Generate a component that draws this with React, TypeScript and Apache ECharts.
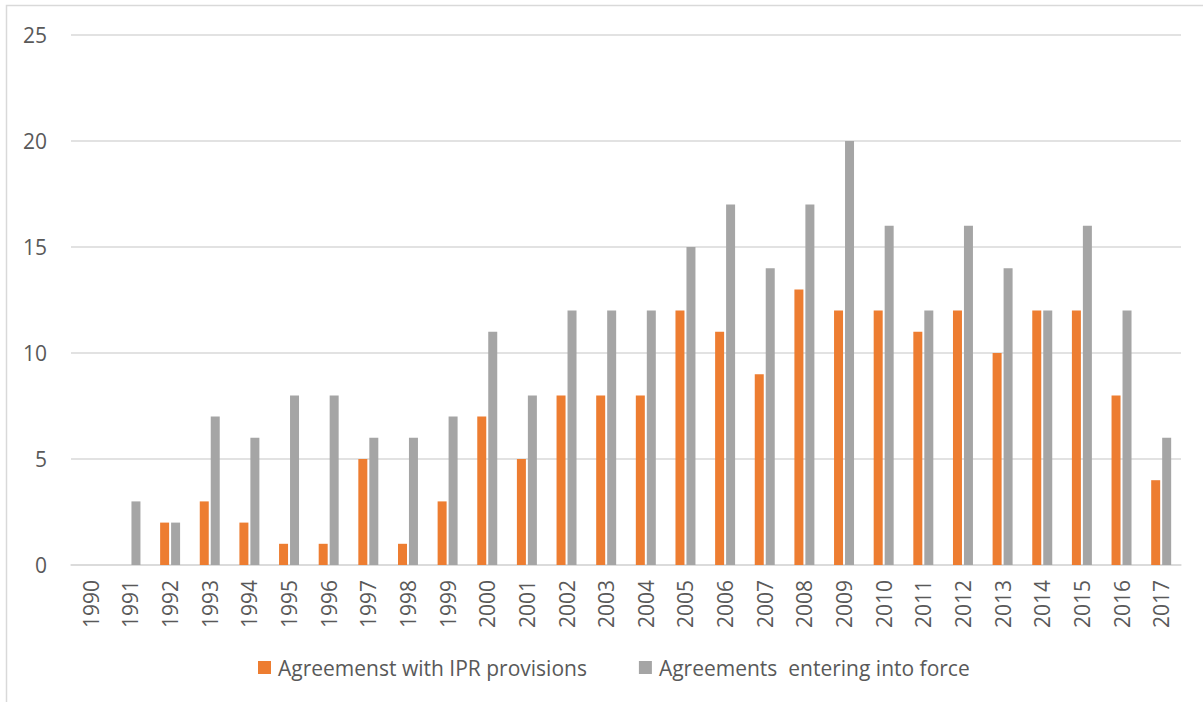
import React, { useEffect, useRef } from "react";
import * as echarts from "echarts";

const years = [
  "1990", "1991", "1992", "1993", "1994", "1995", "1996", "1997", "1998", "1999",
  "2000", "2001", "2002", "2003", "2004", "2005", "2006", "2007", "2008", "2009",
  "2010", "2011", "2012", "2013", "2014", "2015", "2016", "2017",
];
const ipr = [0, 0, 2, 3, 2, 1, 1, 5, 1, 3, 7, 5, 8, 8, 8, 12, 11, 9, 13, 12, 12, 11, 12, 10, 12, 12, 8, 4];
const inForce = [0, 3, 2, 7, 6, 8, 8, 6, 6, 7, 11, 8, 12, 12, 12, 15, 17, 14, 17, 20, 16, 12, 16, 14, 12, 16, 12, 6];
const seriesNames = ["Agreemenst with IPR provisions", "Agreements  entering into force"];

const FONT = "'Open Sans', 'Noto Sans', sans-serif";

export default function App() {
  const ref = useRef<HTMLDivElement>(null);
  useEffect(() => {
    if (!ref.current) return;
    const chart = echarts.init(ref.current, null, { renderer: "svg" });
    chart.setOption({
      animation: false,
      backgroundColor: "#ffffff",
      textStyle: { fontFamily: FONT },
      graphic: [
        {
          type: "rect",
          shape: { x: 6.5, y: 5.5, width: 1220, height: 730 },
          style: { fill: "none", stroke: "#d9d9d9", lineWidth: 1.5 },
          silent: true,
        },
      ],
      grid: { left: 71, right: 22, top: 35, bottom: 137 },
      legend: {
        top: 652,
        left: 253,
        itemWidth: 13,
        itemHeight: 13,
        itemGap: 52,
        icon: "rect",
        textStyle: { fontSize: 21, color: "#595959", fontFamily: FONT, padding: [0, 0, 0, 2] },
        data: seriesNames,
      },
      xAxis: {
        type: "category",
        data: years,
        axisLine: { lineStyle: { color: "#d9d9d9", width: 1.5 } },
        axisTick: { show: false },
        axisLabel: {
          rotate: 90,
          color: "#595959",
          fontSize: 21,
          margin: 15,
          interval: 0,
          fontFamily: FONT,
        },
      },
      yAxis: {
        type: "value",
        min: 0,
        max: 25,
        interval: 5,
        axisLine: { show: false },
        axisTick: { show: false },
        splitLine: { lineStyle: { color: "#d9d9d9", width: 1.5 } },
        axisLabel: { color: "#595959", fontSize: 21, margin: 24, fontFamily: FONT },
      },
      series: [
        {
          name: seriesNames[0],
          type: "bar",
          data: ipr,
          barWidth: 9,
          barGap: "22%",
          itemStyle: { color: "#ED7D31" },
        },
        {
          name: seriesNames[1],
          type: "bar",
          data: inForce,
          barWidth: 9,
          itemStyle: { color: "#A5A5A5" },
        },
      ],
    });
    return () => chart.dispose();
  }, []);
  return (
    <div
      ref={ref}
      style={{ position: "absolute", left: 0, top: 0, width: 1203, height: 702 }}
    />
  );
}
